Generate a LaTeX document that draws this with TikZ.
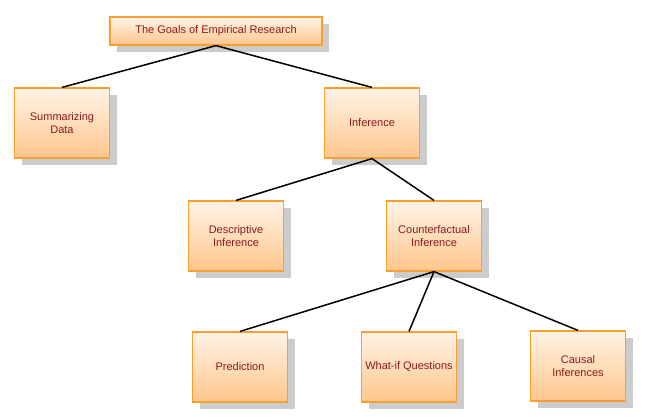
\documentclass[tikz,border=0pt]{standalone}
\usepackage{fontspec}
\setmainfont{Liberation Sans}
\usetikzlibrary{shadows}
\definecolor{boxline}{HTML}{F7A030}
\definecolor{boxtop}{HTML}{FFF3E6}
\definecolor{boxbot}{HTML}{FFC68C}
\definecolor{boxtext}{HTML}{8B1A1A}
\begin{document}
\begin{tikzpicture}
  [x=1pt,y=-1pt,every node/.style={rectangle,draw=boxline,line width=1.2pt,
   top color=boxtop,bottom color=boxbot,text=boxtext,align=center,
   font=\fontsize{11}{13.5}\selectfont,minimum width=95pt,minimum height=70pt,
   inner sep=1pt,
   drop shadow={shadow xshift=7pt,shadow yshift=-7pt,fill=black!20,opacity=1}}]
  \tikzstyle{titlebox} = [minimum width=212pt,minimum height=28pt]
  \useasboundingbox (0,0) rectangle (648,416);
  \node[titlebox] (goals) at (216,31) {The Goals of Empirical Research};
  \node (summ) at (62,123)  {Summarizing\\Data};
  \node (infer) at (372,123) {Inference};
  \node (descr) at (236,236) {Descriptive\\Inference};
  \node (counter) at (434,236) {Counterfactual\\Inference};
  \node (pred) at (240,367) {Prediction};
  \node (whatif) at (409,367) {What-if Questions};
  \node (causal) at (578,366) {Causal\\Inferences};
  \foreach \source /\dest in {goals/summ,goals/infer,infer/descr,infer/counter,counter/pred,counter/whatif,counter/causal}
   \draw[line width=1.5pt] (\source.south) -- (\dest.north);
\end{tikzpicture}
\end{document}
